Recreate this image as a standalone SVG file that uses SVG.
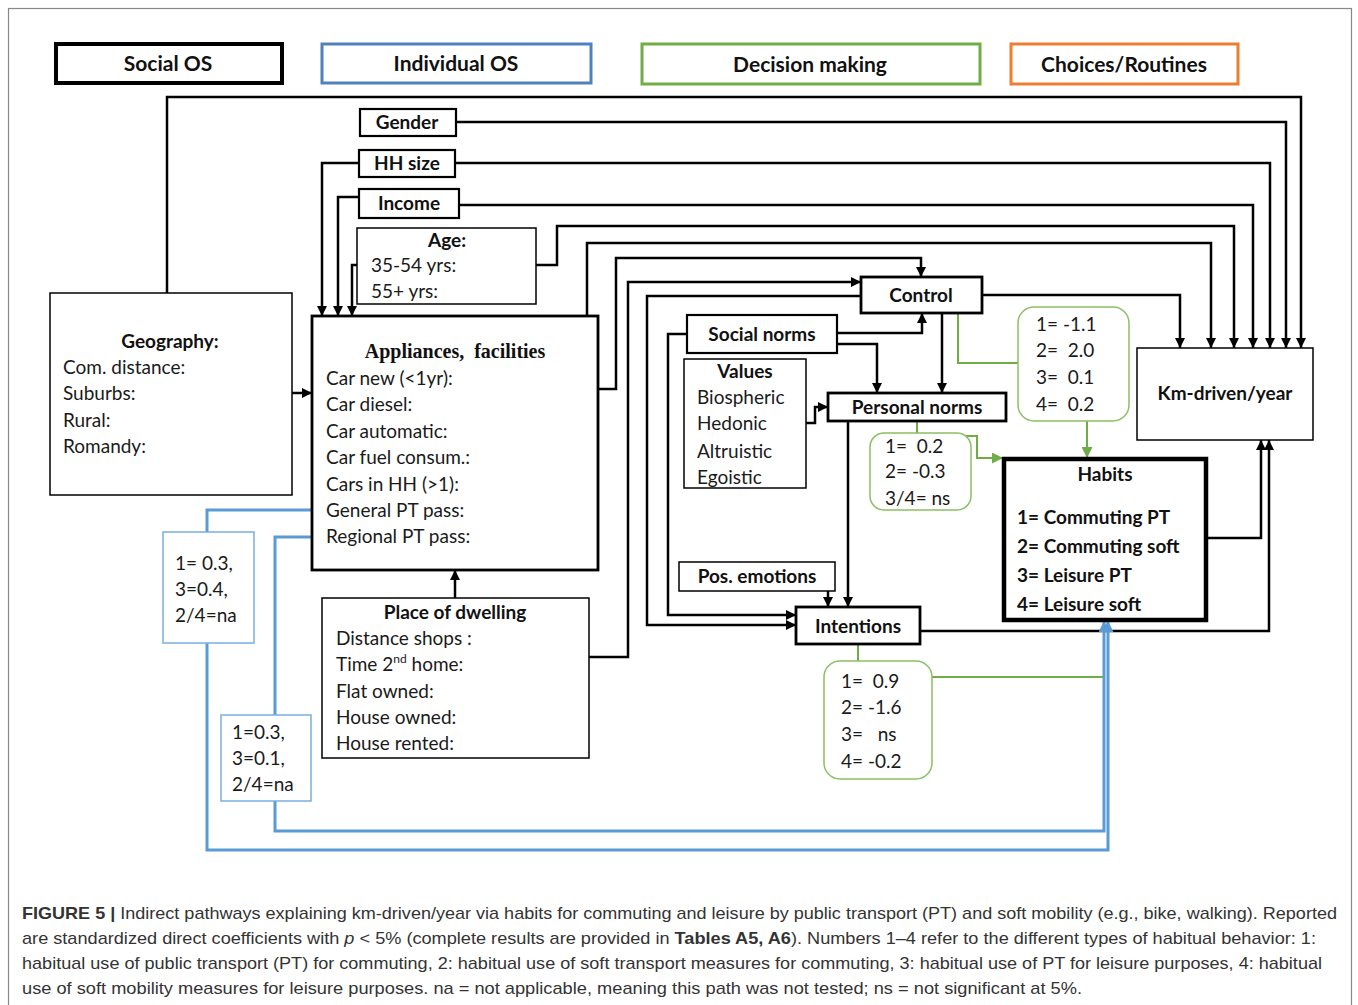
<svg xmlns="http://www.w3.org/2000/svg" width="1358" height="1005" viewBox="0 0 1358 1005">
<style>
.bx{fill:#fff;stroke:#000;stroke-width:1.5}
.b2{stroke-width:2.2}
.b3{stroke-width:2.8}
.t{font-family:Lato,"Liberation Sans",sans-serif;font-size:19px;fill:#1a1a1a;white-space:pre}
.tb{font-family:Lato,"Liberation Sans",sans-serif;font-size:19px;font-weight:bold;fill:#111}
.tl{font-family:Lato,"Liberation Sans",sans-serif;font-size:21px;font-weight:bold;fill:#111}
.c{text-anchor:middle}
.ln{fill:none;stroke:#000;stroke-width:2.5}
.gl{fill:none;stroke:#70ad47;stroke-width:2}
.bl{fill:none;stroke:#5b9bd5;stroke-width:3}
.gb{fill:#fff;stroke:#8cc063;stroke-width:1.5}
.bb{fill:#fff;stroke:#7aaede;stroke-width:1.5}
.cap{font-family:"Liberation Sans",Arial,sans-serif;font-size:17px;fill:#333}
</style>
<defs>
<marker id="ak" viewBox="0 0 10 10" refX="10" refY="5" markerWidth="10" markerHeight="10" markerUnits="userSpaceOnUse" orient="auto"><path d="M0,0 L10,5 L0,10 z" fill="#000"/></marker>
<marker id="ag" viewBox="0 0 10 10" refX="10" refY="5" markerWidth="11" markerHeight="11" markerUnits="userSpaceOnUse" orient="auto"><path d="M0,0 L10,5 L0,10 z" fill="#70ad47"/></marker>
<marker id="ab" viewBox="0 0 10 10" refX="10" refY="5" markerWidth="11" markerHeight="11" markerUnits="userSpaceOnUse" orient="auto"><path d="M0,0 L10,5 L0,10 z" fill="#5b9bd5"/></marker>
</defs>
<rect x="0" y="0" width="1358" height="1005" fill="#fff"/>
<rect x="8.5" y="8.5" width="1343" height="1010" fill="none" stroke="#888" stroke-width="1.2"/>

<g id="legend">
<g id="leg-social"><rect x="56" y="44" width="226" height="39" fill="#fff" stroke="#000" stroke-width="4"/><text class="tl c" x="168" y="71">Social OS</text></g>
<g id="leg-individual"><rect x="322" y="44" width="269" height="39" fill="#fff" stroke="#4f81bd" stroke-width="3"/><text class="tl c" x="456" y="71">Individual OS</text></g>
<g id="leg-decision"><rect x="642" y="44" width="338" height="40" fill="#fff" stroke="#70ad47" stroke-width="3"/><text class="tl c" x="810" y="72">Decision making</text></g>
<g id="leg-choices"><rect x="1011" y="44" width="227" height="40" fill="#fff" stroke="#ed7d31" stroke-width="3"/><text class="tl c" x="1124" y="72">Choices/Routines</text></g>
</g>

<g id="connectors">
<path class="ln" marker-end="url(#ak)" d="M167,293 V97 H1301 V348"/>
<path class="ln" marker-end="url(#ak)" d="M456,122 H1286 V348"/>
<path class="ln" marker-end="url(#ak)" d="M455,163 H1270 V348"/>
<path class="ln" marker-end="url(#ak)" d="M459,205 H1253 V348"/>
<path class="ln" marker-end="url(#ak)" d="M536,265 H557 V226 H1234 V348"/>
<path class="ln" marker-end="url(#ak)" d="M587,316 V243 H1211 V348"/>
<path class="ln" marker-end="url(#ak)" d="M982,295 H1180 V348"/>
<path class="ln" marker-end="url(#ak)" d="M359,163 H322 V316"/>
<path class="ln" marker-end="url(#ak)" d="M359,197 H338 V316"/>
<path class="ln" marker-end="url(#ak)" d="M357,265 H352 V316"/>
<path class="ln" marker-end="url(#ak)" d="M292,393 H312"/>
<path class="ln" marker-end="url(#ak)" d="M455,598 V570"/>
<path class="ln" marker-end="url(#ak)" d="M598,389 H616 V258 H921 V277"/>
<path class="ln" marker-end="url(#ak)" d="M589,657 H628 V282 H861"/>
<path class="ln" marker-end="url(#ak)" d="M861,296 H647 V625 H796"/>
<path class="ln" marker-end="url(#ak)" d="M687,334 H668 V615 H796"/>
<path class="ln" marker-end="url(#ak)" d="M837,333 H922 V313"/>
<path class="ln" marker-end="url(#ak)" d="M837,344 H877 V393"/>
<path class="ln" marker-end="url(#ak)" d="M942,313 V393"/>
<path class="ln" marker-end="url(#ak)" d="M806,423 H815 V407 H828"/>
<path class="ln" marker-end="url(#ak)" d="M848,421 V607"/>
<path class="ln" marker-end="url(#ak)" d="M828,591 V607"/>
<path class="ln" marker-end="url(#ak)" d="M920,631 H1269 V440"/>
<path class="ln" marker-end="url(#ak)" d="M1207,538 H1261 V440"/>
<path class="gl" d="M958,313 V363 H1018"/>
<path class="gl" marker-end="url(#ag)" d="M1087,421 V458"/>
<path class="gl" d="M917,421 V433"/>
<path class="gl" marker-end="url(#ag)" d="M966,436 H977 V458 H1003"/>
<path class="gl" d="M858,644 V661"/>
<path class="gl" d="M932,677 H1105"/>
<path class="bl" d="M312,510 H207 V532"/>
<path class="bl" marker-end="url(#ab)" d="M207,643 V850 H1108 V621"/>
<path class="bl" d="M312,537 H275 V715"/>
<path class="bl" marker-end="url(#ab)" d="M275,801 V831 H1104 V621"/>
</g>

<g id="gender"><rect class="bx b2" x="360" y="109" width="96" height="27"/><text class="tb c" x="407" y="129">Gender</text></g>
<g id="hhsize"><rect class="bx b2" x="359" y="150" width="96" height="27"/><text class="tb c" x="407" y="170">HH size</text></g>
<g id="income"><rect class="bx b2" x="359" y="189" width="100" height="29"/><text class="tb c" x="409" y="210">Income</text></g>
<g id="age"><rect class="bx" x="357" y="228" width="179" height="76"/>
<text class="tb c" x="447" y="247">Age:</text>
<text class="t" x="371" y="272">35-54 yrs:</text>
<text class="t" x="371" y="298">55+ yrs:</text></g>

<g id="geography"><rect class="bx" x="50" y="293" width="242" height="202"/>
<text class="tb c" x="170" y="348">Geography:</text>
<text class="t" x="63" y="374">Com. distance:</text>
<text class="t" x="63" y="400">Suburbs:</text>
<text class="t" x="63" y="427">Rural:</text>
<text class="t" x="63" y="453">Romandy:</text></g>

<g id="appliances"><rect class="bx b3" x="312" y="316" width="286" height="254"/>
<text class="c" x="455" y="358" font-family="'Liberation Serif','Times New Roman',serif" font-size="20" font-weight="bold" fill="#111" style="white-space:pre">Appliances,  facilities</text>
<text class="t" x="326" y="385">Car new (&lt;1yr):</text>
<text class="t" x="326" y="411">Car diesel:</text>
<text class="t" x="326" y="438">Car automatic:</text>
<text class="t" x="326" y="464">Car fuel consum.:</text>
<text class="t" x="326" y="491">Cars in HH (&gt;1):</text>
<text class="t" x="326" y="517">General PT pass:</text>
<text class="t" x="326" y="543">Regional PT pass:</text></g>

<g id="dwelling"><rect class="bx" x="322" y="598" width="267" height="160"/>
<text class="tb c" x="455" y="619">Place of dwelling</text>
<text class="t" x="336" y="645">Distance shops :</text>
<text class="t" x="336" y="671">Time 2<tspan font-size="12" dy="-8">nd</tspan><tspan dy="8"> home:</tspan></text>
<text class="t" x="336" y="698">Flat owned:</text>
<text class="t" x="336" y="724">House owned:</text>
<text class="t" x="336" y="750">House rented:</text></g>

<g id="control"><rect class="bx b3" x="861" y="277" width="121" height="36"/><text class="tb c" x="921" y="302">Control</text></g>
<g id="socialnorms"><rect class="bx b2" x="687" y="315" width="150" height="38"/><text class="tb c" x="762" y="341">Social norms</text></g>
<g id="values"><rect class="bx" x="684" y="359" width="122" height="129"/>
<text class="tb c" x="745" y="378">Values</text>
<text class="t" x="697" y="404">Biospheric</text>
<text class="t" x="697" y="430">Hedonic</text>
<text class="t" x="697" y="458">Altruistic</text>
<text class="t" x="697" y="484">Egoistic</text></g>
<g id="personalnorms"><rect class="bx b3" x="828" y="393" width="178" height="28"/><text class="tb c" x="917" y="414">Personal norms</text></g>
<g id="posemotions"><rect class="bx" x="679" y="562" width="156" height="29"/><text class="tb c" x="757" y="583">Pos. emotions</text></g>
<g id="intentions"><rect class="bx b3" x="796" y="607" width="124" height="37"/><text class="tb c" x="858" y="633">Intentions</text></g>
<g id="km"><rect class="bx" x="1137" y="348" width="176" height="92"/><text class="tb c" x="1225" y="400">Km-driven/year</text></g>
<g id="habits"><rect x="1004" y="459" width="202" height="161" fill="#fff" stroke="#000" stroke-width="4.5"/>
<text class="tb c" x="1105" y="481">Habits</text>
<text class="tb" x="1017" y="524">1= Commuting PT</text>
<text class="tb" x="1017" y="553">2= Commuting soft</text>
<text class="tb" x="1017" y="582">3= Leisure PT</text>
<text class="tb" x="1017" y="611">4= Leisure soft</text></g>

<g id="coef-control"><rect class="gb" x="1018" y="307" width="111" height="114" rx="16"/>
<text class="t" x="1036" y="331">1= -1.1</text>
<text class="t" x="1036" y="357">2=  2.0</text>
<text class="t" x="1036" y="384">3=  0.1</text>
<text class="t" x="1036" y="411">4=  0.2</text></g>
<g id="coef-personal"><rect class="gb" x="870" y="433" width="101" height="77" rx="14"/>
<text class="t" x="885" y="453">1=  0.2</text>
<text class="t" x="885" y="478">2= -0.3</text>
<text class="t" x="885" y="505">3/4= ns</text></g>
<g id="coef-intentions"><rect class="gb" x="824" y="661" width="108" height="118" rx="16"/>
<text class="t" x="841" y="688">1=  0.9</text>
<text class="t" x="841" y="714">2= -1.6</text>
<text class="t" x="841" y="741">3=   ns</text>
<text class="t" x="841" y="768">4= -0.2</text></g>
<g id="coef-general"><rect class="bb" x="163" y="532" width="91" height="111"/>
<text class="t" x="175" y="570">1= 0.3,</text>
<text class="t" x="175" y="596">3=0.4,</text>
<text class="t" x="175" y="622">2/4=na</text></g>
<g id="coef-regional"><rect class="bb" x="221" y="715" width="90" height="86"/>
<text class="t" x="232" y="739">1=0.3,</text>
<text class="t" x="232" y="765">3=0.1,</text>
<text class="t" x="232" y="791">2/4=na</text></g>

<g id="caption">
<text class="cap" x="22" y="919" textLength="1315" lengthAdjust="spacingAndGlyphs"><tspan font-weight="bold">FIGURE 5 |</tspan> Indirect pathways explaining km-driven/year via habits for commuting and leisure by public transport (PT) and soft mobility (e.g., bike, walking). Reported</text>
<text class="cap" x="22" y="944" textLength="1294" lengthAdjust="spacingAndGlyphs">are standardized direct coefficients with <tspan font-style="italic">p</tspan> &lt; 5% (complete results are provided in <tspan font-weight="bold">Tables A5, A6</tspan>). Numbers 1–4 refer to the different types of habitual behavior: 1:</text>
<text class="cap" x="22" y="969" textLength="1300" lengthAdjust="spacingAndGlyphs">habitual use of public transport (PT) for commuting, 2: habitual use of soft transport measures for commuting, 3: habitual use of PT for leisure purposes, 4: habitual</text>
<text class="cap" x="22" y="994" textLength="1060" lengthAdjust="spacingAndGlyphs">use of soft mobility measures for leisure purposes. na = not applicable, meaning this path was not tested; ns = not significant at 5%.</text>
</g>
</svg>
